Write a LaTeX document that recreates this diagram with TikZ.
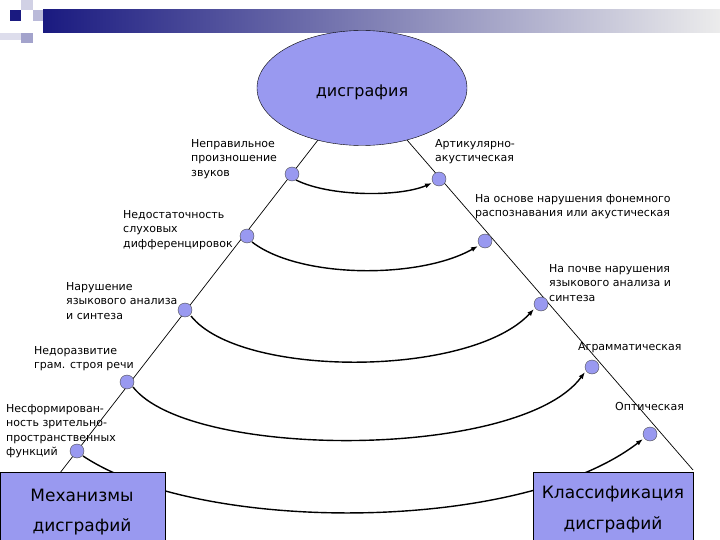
\documentclass[tikz,border=0pt]{standalone}
\usepackage{fontspec}
\setmainfont{DejaVu Sans}
\usetikzlibrary{arrows.meta,shapes.geometric}
\definecolor{fillb}{HTML}{9999F0}
\definecolor{navy}{HTML}{1A1A80}
\begin{document}
\begin{tikzpicture}[x=1pt,y=-1pt,
  lbl/.style={anchor=north west,inner sep=0pt,align=left,font=\fontsize{11}{14.5}\selectfont},
  dot/.style={circle,draw=black!70,line width=0.4pt,fill=fillb,minimum size=14pt,inner sep=0pt},
  arc/.style={line width=1.4pt,-{Latex[length=7pt,width=5pt]}},
  bigbox/.style={draw=black,fill=fillb,minimum width=165pt,minimum height=68pt,inner sep=0pt}]
\useasboundingbox (0,0) rectangle (720,540);
% decoration
\shade[left color=navy,right color=white!85!gray] (43,10) rectangle (720,33);
\fill[navy] (10,10) rectangle (21,21);
\fill[white!80!navy] (21,0) rectangle (33,10);
\fill[white!70!navy] (33,10) rectangle (43,21);
\fill[white!60!navy] (21,33) rectangle (33,43);
\fill[white!85!navy] (0,33) rectangle (21,40);
% lines
\coordinate (lt) at (318,140); \coordinate (lb) at (8,540);
\coordinate (rt) at (407,140); \coordinate (rb) at (693,470);
\draw[line width=0.7pt] (lt) -- (lb);
\draw[line width=0.7pt] (rt) -- (rb);
% ellipse
\node[ellipse,draw=black,fill=fillb,minimum width=210pt,minimum height=115pt] (e) at (362,88) {};
\node[font=\fontsize{16}{18}\selectfont] (et) at (362,92) {дисграфия};
% curves
\coordinate (c1a) at (296,180); \coordinate (c2a) at (252,242); \coordinate (c3a) at (191,316);
\coordinate (c4a) at (133,387); \coordinate (c5a) at (83,456);
\draw[arc] (c1a) .. controls (330,197) and (400,197) .. (432,183);
\draw[arc] (c2a) .. controls (300,279) and (420,279) .. (478,246);
\draw[arc] (c3a) .. controls (240,378) and (470,378) .. (534,309);
\draw[arc] (c4a) .. controls (190,460) and (520,460) .. (585,372);
\draw[arc] (c5a) .. controls (200,534) and (520,534) .. (643,439);
% dots
\node[dot] (l1) at (292,174) {}; \node[dot] (r1) at (439,179) {};
\node[dot] (l2) at (247,236) {}; \node[dot] (r2) at (485,241) {};
\node[dot] (l3) at (185,310) {}; \node[dot] (r3) at (541,304) {};
\node[dot] (l4) at (127,382) {}; \node[dot] (r4) at (592,367) {};
\node[dot] (l5) at (77,451) {};  \node[dot] (r5) at (650,434) {};
% boxes
\node[bigbox] (mb) at (82.5,506) {};
\node[bigbox,minimum width=160pt] (kb) at (613,506) {};
\node[font=\fontsize{17}{20}\selectfont] (mt1) at (82,495) {Механизмы};
\node[font=\fontsize{17}{20}\selectfont] (mt2) at (82,527) {дисграфий};
\node[font=\fontsize{17}{20}\selectfont] (kt1) at (613,494) {Классификация};
\node[font=\fontsize{17}{20}\selectfont] (kt2) at (613,525) {дисграфий};
% labels
\node[lbl] (t1) at (191,139) {Неправильное\\произношение\\звуков};
\node[lbl] (t2) at (435,139) {Артикулярно-\\акустическая};
\node[lbl] (t3) at (123,210) {Недостаточность\\слуховых\\дифференцировок};
\node[lbl] (t4) at (475,194) {На основе нарушения фонемного\\распознавания или акустическая};
\node[lbl] (t5) at (66,282) {Нарушение\\языкового анализа\\и синтеза};
\node[lbl] (t6) at (549,264) {На почве нарушения\\языкового анализа и\\синтеза};
\node[lbl] (t7) at (34,346) {Недоразвитие\\грам. строя речи};
\node[lbl] (t8) at (578,342) {Аграмматическая};
\node[lbl] (t9) at (6,404) {Несформирован-\\ность зрительно-\\пространственных\\функций};
\node[lbl] (t10) at (615,402) {Оптическая};
\end{tikzpicture}
\end{document}
